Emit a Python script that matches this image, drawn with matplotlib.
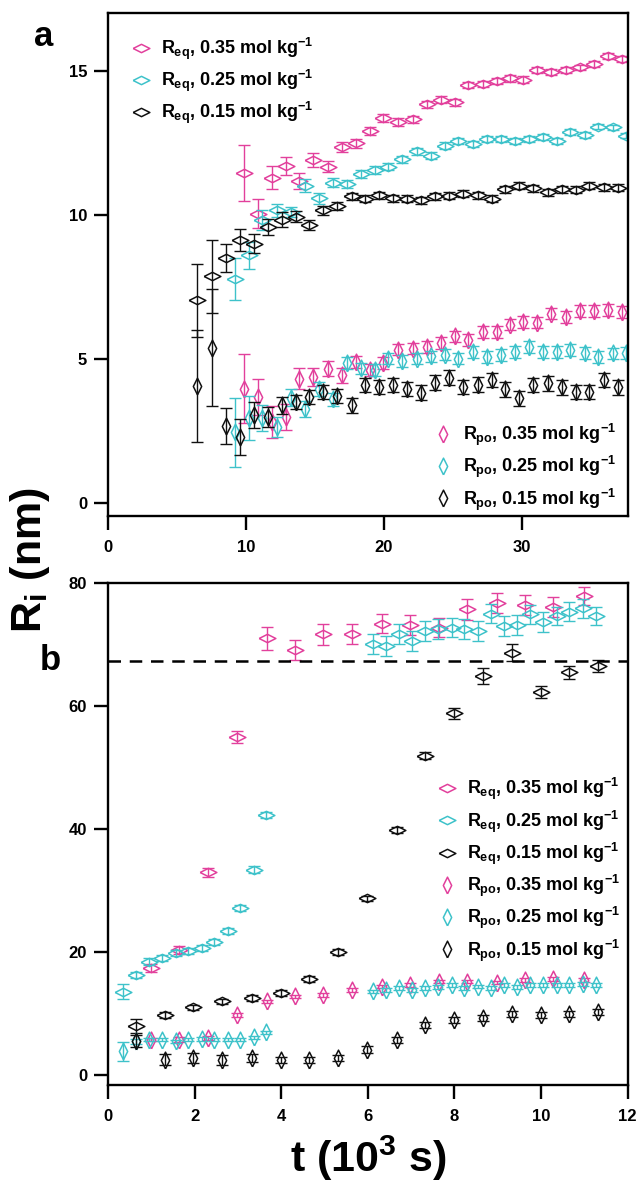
import matplotlib
matplotlib.use('Agg')
import matplotlib.pyplot as plt
from matplotlib.lines import Line2D

plt.rcParams['font.family'] = ['Liberation Sans', 'DejaVu Sans']
plt.rcParams['font.weight'] = 'bold'
plt.rcParams['mathtext.fontset'] = 'custom'
plt.rcParams['mathtext.rm'] = 'Liberation Sans:bold'
plt.rcParams['mathtext.it'] = 'Liberation Sans:bold'
plt.rcParams['mathtext.bf'] = 'Liberation Sans:bold'
plt.rcParams['axes.linewidth'] = 1.7

# ---------------- data: panel a ----------------
a_t_p = [9.88, 10.90, 11.91, 12.91, 13.85, 14.89, 15.93, 16.99, 17.98, 19.00, 19.96, 21.05, 22.10, 23.11,
         24.13, 25.16, 26.13, 27.17, 28.19, 29.15, 30.12, 31.13, 32.17, 33.21, 34.23, 35.25, 36.28, 37.27]
a_req_p = [11.45, 10.03, 11.28, 11.70, 11.16, 11.91, 11.67, 12.34, 12.48, 12.92, 13.36, 13.22, 13.31, 13.84,
           13.99, 13.91, 14.51, 14.54, 14.65, 14.73, 14.69, 15.02, 14.96, 15.03, 15.11, 15.23, 15.52, 15.41]
a_req_p_err = [0.98, 0.50, 0.40, 0.31, 0.28, 0.24, 0.20, 0.17, 0.15, 0.14, 0.13, 0.13, 0.12, 0.12,
               0.12, 0.12, 0.11, 0.11, 0.11, 0.11, 0.11, 0.10, 0.10, 0.10, 0.10, 0.10, 0.10, 0.10]
a_rpo_p = [3.97, 3.68, 2.82, 2.99, 4.32, 4.38, 4.66, 4.43, 4.89, 4.61, 4.86, 5.32, 5.36, 5.41,
           5.55, 5.78, 5.65, 5.93, 5.93, 6.19, 6.28, 6.26, 6.57, 6.45, 6.66, 6.66, 6.69, 6.63]
a_rpo_p_err = [1.19, 0.63, 0.55, 0.46, 0.35, 0.32, 0.25, 0.25, 0.22, 0.21, 0.20, 0.20, 0.20, 0.20,
               0.20, 0.20, 0.20, 0.20, 0.20, 0.20, 0.20, 0.20, 0.20, 0.20, 0.20, 0.20, 0.20, 0.20]

a_t_c = [9.21, 10.22, 11.15, 12.23, 13.27, 14.29, 15.32, 16.29, 17.31, 18.35, 19.36, 20.33, 21.34, 22.39,
         23.42, 24.44, 25.40, 26.45, 27.46, 28.50, 29.51, 30.55, 31.57, 32.58, 33.50, 34.61, 35.55, 36.64, 37.60]
a_req_c = [7.78, 8.59, 9.83, 10.15, 10.09, 11.01, 10.57, 11.11, 11.07, 11.42, 11.56, 11.67, 11.93, 12.20,
           12.05, 12.40, 12.57, 12.46, 12.63, 12.63, 12.57, 12.62, 12.69, 12.57, 12.86, 12.78, 13.06, 13.03, 12.75]
a_req_c_err = [0.72, 0.46, 0.35, 0.23, 0.18, 0.23, 0.19, 0.15, 0.14, 0.13, 0.13, 0.12, 0.12, 0.12,
               0.12, 0.11, 0.11, 0.11, 0.11, 0.11, 0.11, 0.11, 0.10, 0.10, 0.10, 0.10, 0.10, 0.10, 0.10]
a_rpo_c = [2.45, 2.95, 2.95, 2.65, 3.65, 3.25, 3.95, 3.60, 4.85, 4.67, 4.61, 5.01, 4.93, 5.01,
           5.09, 5.15, 5.01, 5.24, 5.07, 5.13, 5.24, 5.41, 5.24, 5.24, 5.30, 5.21, 5.07, 5.19, 5.20]
a_rpo_c_err = [1.20, 0.75, 0.45, 0.35, 0.30, 0.28, 0.25, 0.22, 0.20, 0.20, 0.20, 0.20, 0.20, 0.20,
               0.20, 0.20, 0.20, 0.20, 0.20, 0.20, 0.20, 0.20, 0.20, 0.20, 0.20, 0.20, 0.20, 0.20, 0.20]

a_t_k = [6.43, 7.52, 8.54, 9.57, 10.59, 11.58, 12.60, 13.61, 14.60, 15.61, 16.63, 17.67, 18.64, 19.67, 20.69,
         21.70, 22.70, 23.71, 24.75, 25.77, 26.81, 27.82, 28.79, 29.83, 30.84, 31.89, 32.90, 33.94, 34.90, 35.97, 37.00]
a_req_k = [7.03, 7.87, 8.50, 9.14, 9.00, 9.57, 9.83, 9.94, 9.65, 10.15, 10.29, 10.64, 10.55, 10.67, 10.57,
           10.55, 10.50, 10.64, 10.66, 10.73, 10.67, 10.55, 10.88, 11.00, 10.92, 10.78, 10.88, 10.87, 11.00, 10.96, 10.94]
a_req_k_err = [1.27, 1.27, 0.47, 0.38, 0.33, 0.28, 0.25, 0.20, 0.17, 0.15, 0.14, 0.13, 0.12, 0.12, 0.12,
               0.12, 0.12, 0.12, 0.12, 0.12, 0.12, 0.12, 0.12, 0.12, 0.12, 0.12, 0.12, 0.12, 0.12, 0.12, 0.12]
a_rpo_k = [4.05, 5.39, 2.67, 2.30, 3.05, 2.99, 3.39, 3.51, 3.68, 3.86, 3.71, 3.39, 4.09, 4.03, 4.09,
           3.95, 3.83, 4.18, 4.35, 4.03, 4.11, 4.26, 3.94, 3.63, 4.09, 4.15, 4.01, 3.86, 3.86, 4.26, 4.01]
a_rpo_k_err = [1.95, 2.03, 0.62, 0.62, 0.45, 0.35, 0.30, 0.25, 0.25, 0.25, 0.25, 0.25, 0.25, 0.25, 0.25,
               0.25, 0.25, 0.25, 0.25, 0.25, 0.25, 0.25, 0.25, 0.25, 0.25, 0.25, 0.25, 0.25, 0.25, 0.25, 0.25]

# ---------------- data: panel b ----------------
b_t_p = [0.99, 1.64, 2.32, 2.99, 3.66, 4.32, 4.97, 5.63, 6.32, 6.97, 7.64, 8.30, 8.98, 9.63, 10.28, 10.99]
b_req_p = [17.30, 20.27, 32.87, 54.86, 70.97, 69.00, 71.60, 71.70, 73.35, 73.08, 72.70, 75.67, 76.75, 76.37, 76.05, 77.83]
b_req_p_err = [0.6, 0.6, 0.7, 1.0, 1.9, 1.6, 1.7, 1.6, 1.6, 1.6, 1.5, 1.7, 1.6, 1.6, 1.6, 1.5]
b_rpo_p = [5.68, 5.68, 5.95, 9.73, 11.89, 12.70, 12.97, 13.78, 14.32, 14.59, 15.13, 15.13, 14.97, 15.40, 15.51, 15.40]
b_rpo_p_err = [0.3, 0.4, 0.3, 0.3, 0.3, 0.3, 0.3, 0.3, 0.3, 0.3, 0.3, 0.3, 0.3, 0.3, 0.3, 0.3]

b_t_c = [0.35, 0.65, 0.95, 1.25, 1.56, 1.85, 2.16, 2.45, 2.76, 3.05, 3.36, 3.65, 6.13, 6.42, 6.73,
         7.01, 7.32, 7.63, 7.94, 8.23, 8.54, 8.84, 9.14, 9.44, 9.75, 10.05, 10.36, 10.65, 10.96, 11.27]
b_req_c = [13.50, 16.20, 18.37, 18.92, 19.83, 20.16, 20.54, 21.62, 23.40, 27.13, 33.35, 42.16, 70.00, 69.73, 71.63,
           70.54, 72.16, 72.43, 72.70, 72.43, 72.16, 74.96, 72.97, 73.13, 74.86, 73.66, 74.59, 75.29, 75.83, 74.59]
b_req_c_err = [1.2, 0.5, 0.6, 0.5, 0.5, 0.5, 0.5, 0.5, 0.5, 0.5, 0.5, 0.5, 1.6, 1.6, 1.6,
               1.6, 1.6, 1.6, 1.5, 1.6, 1.6, 1.5, 1.6, 1.6, 1.5, 1.6, 1.5, 1.5, 1.5, 1.5]
b_rpo_c = [3.78, 5.40, 5.68, 5.68, 5.40, 5.68, 5.79, 5.68, 5.68, 5.68, 6.05, 6.86, 13.51, 13.78, 14.05,
           13.78, 14.05, 14.22, 14.59, 14.05, 14.32, 14.05, 14.59, 14.22, 14.59, 14.59, 14.59, 14.59, 14.70, 14.59]
b_rpo_c_err = [1.5, 0.4, 0.3, 0.3, 0.3, 0.3, 0.3, 0.3, 0.3, 0.3, 0.3, 0.3, 0.3, 0.3, 0.3,
               0.3, 0.3, 0.3, 0.3, 0.3, 0.3, 0.3, 0.3, 0.3, 0.3, 0.3, 0.3, 0.3, 0.3, 0.3]

b_t_k = [0.65, 1.32, 1.97, 2.64, 3.32, 3.99, 4.65, 5.32, 5.99, 6.67, 7.32, 8.00, 8.67, 9.34, 9.99, 10.65, 11.32]
b_req_k = [7.84, 9.62, 10.92, 11.89, 12.43, 13.24, 15.57, 19.89, 28.65, 39.84, 51.89, 58.75, 64.75, 68.64, 62.27, 65.40, 66.48]
b_req_k_err = [1.16, 0.5, 0.45, 0.45, 0.45, 0.45, 0.45, 0.45, 0.45, 0.5, 0.6, 0.9, 1.3, 1.35, 0.95, 1.1, 1.0]
b_rpo_k = [5.40, 2.43, 2.70, 2.43, 2.70, 2.43, 2.43, 2.70, 4.05, 5.68, 8.11, 8.92, 9.19, 9.89, 9.73, 9.89, 10.11]
b_rpo_k_err = [1.0, 0.9, 0.8, 0.8, 0.7, 0.5, 0.5, 0.5, 0.6, 0.5, 0.5, 0.5, 0.5, 0.5, 0.5, 0.5, 0.5]

plateau = 67.3

labels_req = [r'$R_{eq}$, 0.35 mol kg$^{-1}$', r'$R_{eq}$, 0.25 mol kg$^{-1}$', r'$R_{eq}$, 0.15 mol kg$^{-1}$']
labels_rpo = [r'$R_{po}$, 0.35 mol kg$^{-1}$', r'$R_{po}$, 0.25 mol kg$^{-1}$', r'$R_{po}$, 0.15 mol kg$^{-1}$']

PINK = '#E2409C'
CYAN = '#3EC2CA'
BLACK = '#111111'
colors = [PINK, CYAN, BLACK]

REQ = [(-1, 0), (0, 0.5), (1, 0), (0, -0.5), (-1, 0)]
RPO = [(0, -1), (0.5, 0), (0, 1), (-0.5, 0), (0, -1)]
MS = 12
MEW = 1.1


def series(ax, t, y, e, color, marker):
    ax.errorbar(t, y, yerr=e, fmt='none', ecolor=color, elinewidth=1.0, capsize=4, capthick=1.0)
    ax.plot(t, y, linestyle='none', marker=marker, ms=MS, mfc='none', mec=color, mew=MEW)


def handle(color, marker):
    return Line2D([], [], linestyle='none', marker=marker, ms=MS, mfc='none', mec=color, mew=MEW)


fig = plt.figure(figsize=(6.4, 11.84), dpi=100)
W, H = 640, 1184
axa = fig.add_axes([108 / W, 1 - 516 / H, 519.7 / W, 503 / H])
axb = fig.add_axes([108 / W, 1 - 1085 / H, 519.7 / W, 502.3 / H])

leg_kw = dict(frameon=False, fontsize=13, borderpad=0, borderaxespad=0, handlelength=1.0,
              handletextpad=0.6, labelspacing=0.33)

# panel a
series(axa, a_t_p, a_req_p, a_req_p_err, PINK, REQ)
series(axa, a_t_c, a_req_c, a_req_c_err, CYAN, REQ)
series(axa, a_t_k, a_req_k, a_req_k_err, BLACK, REQ)
series(axa, a_t_p, a_rpo_p, a_rpo_p_err, PINK, RPO)
series(axa, a_t_c, a_rpo_c, a_rpo_c_err, CYAN, RPO)
series(axa, a_t_k, a_rpo_k, a_rpo_k_err, BLACK, RPO)
axa.set_xlim(0, 37.7)
axa.set_ylim(-0.45, 17.0)
axa.set_xticks([0, 10, 20, 30])
axa.set_yticks([0, 5, 10, 15])

leg1 = axa.legend([handle(c, REQ) for c in colors], labels_req, loc='upper left',
                  bbox_to_anchor=(0.046, 0.955), **leg_kw)
axa.add_artist(leg1)
axa.legend([handle(c, RPO) for c in colors], labels_rpo, loc='upper left',
           bbox_to_anchor=(0.627, 0.187), **leg_kw)

# panel b
series(axb, b_t_p, b_req_p, b_req_p_err, PINK, REQ)
series(axb, b_t_c, b_req_c, b_req_c_err, CYAN, REQ)
series(axb, b_t_k, b_req_k, b_req_k_err, BLACK, REQ)
series(axb, b_t_p, b_rpo_p, b_rpo_p_err, PINK, RPO)
series(axb, b_t_c, b_rpo_c, b_rpo_c_err, CYAN, RPO)
series(axb, b_t_k, b_rpo_k, b_rpo_k_err, BLACK, RPO)
axb.axhline(plateau, color='black', lw=1.8, ls=(0, (5, 3.5)))
axb.set_xlim(0, 12)
axb.set_ylim(-1.7, 80)
axb.set_xticks([0, 2, 4, 6, 8, 10, 12])
axb.set_yticks([0, 20, 40, 60, 80])

axb.legend([handle(c, REQ) for c in colors] + [handle(c, RPO) for c in colors],
           labels_req + labels_rpo, loc='upper left', bbox_to_anchor=(0.635, 0.615), **leg_kw)

for ax in (axa, axb):
    ax.tick_params(axis='both', which='major', direction='out', length=10, width=1.7,
                   labelsize=12, top=False, right=False)
    ax.tick_params(axis='x', pad=7)
    ax.tick_params(axis='y', pad=5)
    for lab in ax.get_xticklabels() + ax.get_yticklabels():
        lab.set_fontweight('bold')

fig.text(44 / W, 1 - 36 / H, 'a', fontsize=25, fontweight='bold', ha='center', va='center')
fig.text(50 / W, 1 - 660 / H, 'b', fontsize=25, fontweight='bold', ha='center', va='center')
fig.text(30 / W, 1 - 560 / H, r'R$_i$ (nm)', fontsize=31, fontweight='bold', rotation=90,
         ha='center', va='center')
fig.text(368 / W, 1 - 1158 / H, r't (10$^3$ s)', fontsize=31, fontweight='bold',
         ha='center', va='center')

fig.savefig('out.png', dpi=100)
